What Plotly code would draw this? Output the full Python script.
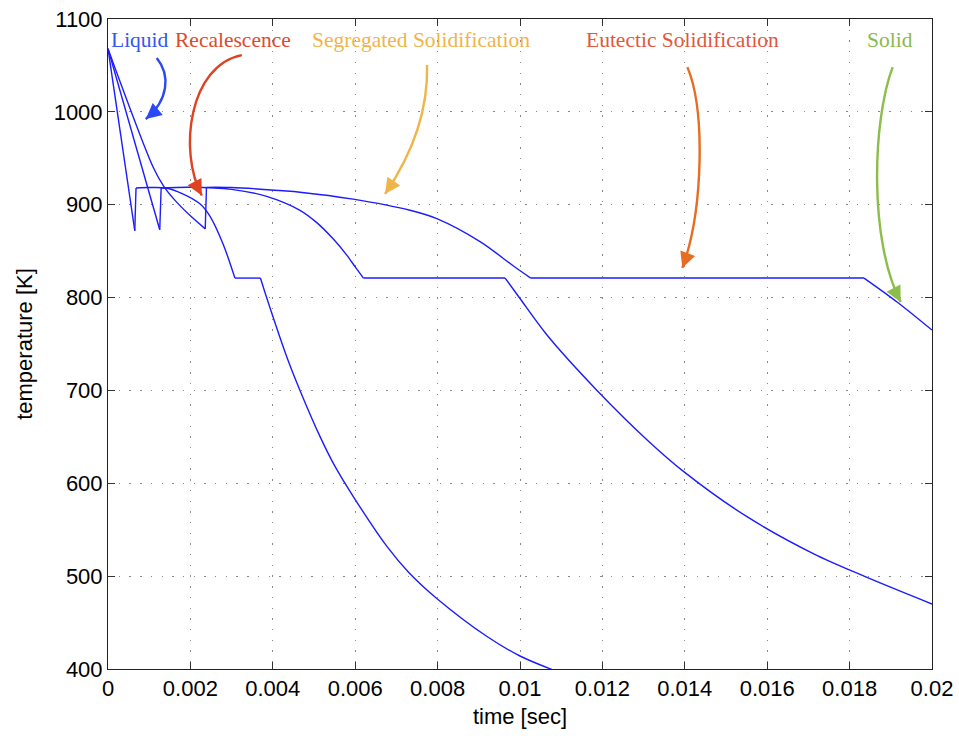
import math
import plotly.graph_objects as go

# ---------------- data ----------------
# curve A: fastest cooling
time_a = [0.0, 0.00065, 0.00068, 0.0010, 0.0014, 0.0018, 0.00223, 0.00247, 0.00279, 0.00308,
          0.0037, 0.00385, 0.00434, 0.00466, 0.00515, 0.0055, 0.00595, 0.00677, 0.0073, 0.00798,
          0.0092, 0.0100, 0.0108]
temp_a = [1068, 872, 918, 918.5, 918, 912, 901, 888, 858, 821,
          821, 800, 736, 700, 650, 619, 586, 532, 504, 476,
          435, 414, 399]
corners_a = [0, 1, 2, 9, 10, 22]

# curve B: medium cooling
time_b = [0.0, 0.001256, 0.00129, 0.0020, 0.0030, 0.00385, 0.00466, 0.00506, 0.00547, 0.00579,
          0.0060, 0.0062, 0.00964, 0.0100, 0.01065, 0.01187, 0.01308, 0.01399, 0.01551,
          0.01713, 0.01835, 0.0200]
temp_b = [1068, 873, 918, 918.8, 916.5, 909, 894, 881, 863, 846,
          833, 821, 821, 799, 760, 700, 647, 612, 564,
          524, 500, 470]
corners_b = [0, 1, 2, 11, 12, 21]

# curve C: slowest cooling
time_c = [0.0, 0.0011, 0.00135, 0.0016, 0.0020, 0.00236, 0.00239, 0.0030, 0.00425, 0.00466,
          0.00595, 0.00733, 0.00798, 0.00904, 0.00984, 0.01026, 0.01835, 0.01916, 0.0200]
temp_c = [1068, 940, 920, 906, 888, 874, 918.7, 918.5, 915, 913.5,
          906, 894, 885, 860, 834, 821, 821, 795, 765]
corners_c = [0, 5, 6, 15, 16, 18]

x_tickvals = [0, 0.002, 0.004, 0.006, 0.008, 0.01, 0.012, 0.014, 0.016, 0.018, 0.02]
x_ticktext = ["0", "0.002", "0.004", "0.006", "0.008", "0.01", "0.012", "0.014", "0.016", "0.018", "0.02"]
y_tickvals = [400, 500, 600, 700, 800, 900, 1000, 1100]

# phase labels
label_text = ["Liquid", "Recalescence", "Segregated Solidification", "Eutectic Solidification", "Solid"]
label_time = [0.000784, 0.003030, 0.007594, 0.013935, 0.018977]
label_temp = [1077.0] * 5
label_color = ["#3456f2", "#de4a2c", "#f0b449", "#e0583e", "#8ab94e"]
arrow_color = ["#2a48f5", "#e0421f", "#f0b54a", "#e66d22", "#8cbd4a"]

# curved arrows: cubic Bezier control points (time, temperature)
arrow_pts = [
    [(0.001183, 1057.9), (0.00152, 1039.6), (0.00147, 1012.7), (0.000916, 992.2)],
    [(0.003249, 1061.1), (0.001985, 1050.4), (0.001694, 958.9), (0.002277, 909.9)],
    [(0.007745, 1050.4), (0.007769, 1007.3), (0.007453, 958.9), (0.006724, 911.5)],
    [(0.014063, 1048.2), (0.014500, 1001.9), (0.014452, 894.3), (0.013941, 831.9)],
    [(0.019045, 1048.2), (0.018559, 991.2), (0.018460, 862.0), (0.019239, 795.3)],
]

# ---------------- figure ----------------
W, H = 959, 736
M = dict(l=108, r=27, t=19, b=67)
X_RANGE = [0, 0.02]
Y_RANGE = [400, 1100]
px_per_x = (W - M["l"] - M["r"]) / (X_RANGE[1] - X_RANGE[0])
px_per_y = (H - M["t"] - M["b"]) / (Y_RANGE[1] - Y_RANGE[0])

fig = go.Figure()
line_style = dict(color="#1c1cff", width=1.4)
for t, T, cs in [(time_a, temp_a, corners_a), (time_b, temp_b, corners_b), (time_c, temp_c, corners_c)]:
    for i0, i1 in zip(cs[:-1], cs[1:]):
        fig.add_trace(go.Scatter(x=t[i0:i1 + 1], y=T[i0:i1 + 1], mode="lines",
                                 line=dict(**line_style, shape="spline", smoothing=0.9),
                                 showlegend=False, hoverinfo="x+y"))

shapes = []
annotations = []
for pts, col in zip(arrow_pts, arrow_color):
    (x0, y0), (x1, y1), (x2, y2), (x3, y3) = pts
    path = f"M {x0},{y0} C {x1},{y1} {x2},{y2} {x3},{y3}"
    shapes.append(dict(type="path", path=path, xref="x", yref="y",
                       line=dict(color=col, width=2.4)))
    # arrowhead: short segment along the end tangent
    dxp = (x3 - x2) * px_per_x
    dyp = (y3 - y2) * px_per_y
    n = math.hypot(dxp, dyp)
    L = 12.0
    tx = x3 - L * dxp / n / px_per_x
    ty = y3 - L * dyp / n / px_per_y
    annotations.append(dict(x=x3, y=y3, ax=tx, ay=ty,
                            xref="x", yref="y", axref="x", ayref="y",
                            text="", showarrow=True, arrowhead=2, arrowsize=1.3,
                            arrowwidth=2.4, arrowcolor=col, standoff=0))

for txt, tx, ty, col in zip(label_text, label_time, label_temp, label_color):
    annotations.append(dict(x=tx, y=ty, xref="x", yref="y", text=txt, showarrow=False,
                            xanchor="center", yanchor="middle",
                            font=dict(family="Liberation Serif, Times New Roman, serif",
                                      size=21.5, color=col)))

axis_common = dict(
    showline=True, linecolor="#222", linewidth=1, mirror="ticks",
    ticks="inside", ticklen=7, tickcolor="#333", tickwidth=1,
    showgrid=True, gridcolor="#8a8a8a", gridwidth=1, griddash="1.4px,9.3px",
    zeroline=False, automargin=False,
    tickfont=dict(family="Liberation Sans, Arial, sans-serif", size=22, color="black"),
)

fig.update_layout(
    width=W, height=H,
    margin=M,
    paper_bgcolor="white", plot_bgcolor="white",
    shapes=shapes, annotations=annotations,
    xaxis=dict(range=X_RANGE, tickvals=x_tickvals, ticktext=x_ticktext,
               title=dict(text="time [sec]", standoff=8,
                          font=dict(family="Liberation Sans, Arial, sans-serif", size=22, color="black")),
               **axis_common),
    yaxis=dict(range=Y_RANGE, tickvals=y_tickvals,
               title=dict(text="temperature [K]", standoff=14,
                          font=dict(family="Liberation Sans, Arial, sans-serif", size=22, color="black")),
               **axis_common),
)

fig.write_html("out.html")
